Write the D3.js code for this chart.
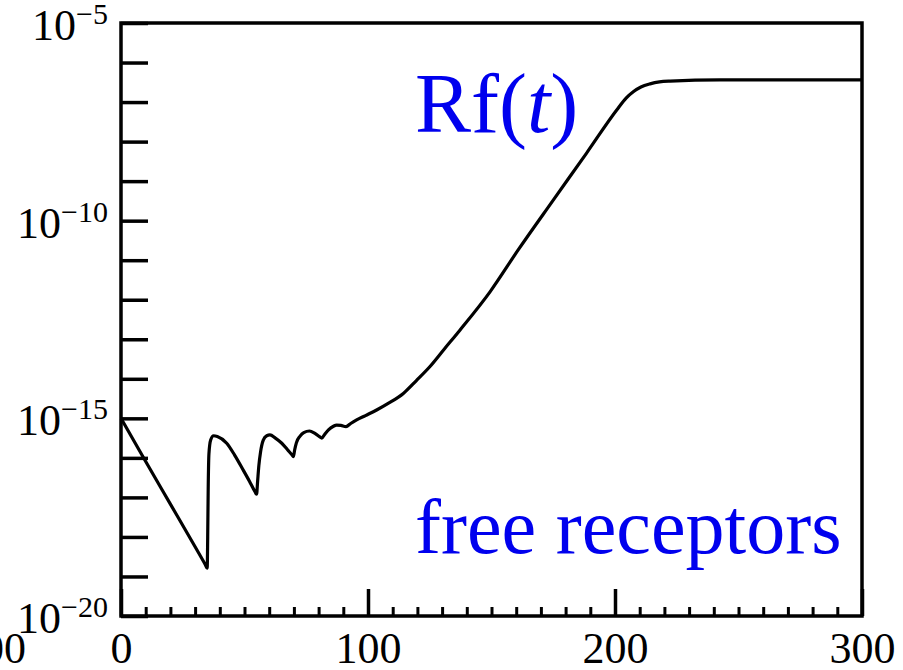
<!DOCTYPE html>
<html>
<head>
<meta charset="utf-8">
<script src="https://cdn.jsdelivr.net/npm/d3@7"></script>
<style>
  body { margin: 0; background: #fff; }
  svg { display: block; font-family: "Liberation Serif", "DejaVu Serif", serif; }
</style>
</head>
<body>
<svg width="903" height="670"></svg>
<script>
// time (x) and log10 of Rf(t)
const tValues = [0, 10, 20, 30, 34.2, 34.9, 35.1, 35.3, 35.6, 36.3, 37.5, 39, 42.8, 46, 49.5, 52, 54.2, 54.9,
  55.3, 55.8, 56.5, 57.6, 59, 60.3, 62.5, 65.1, 67.5, 69.3, 69.8, 70.3, 71, 72.5, 74, 76.3, 78.5, 80.5, 81.3,
  82.5, 84, 86, 87.3, 89, 91.1, 93, 95.4, 99, 103.5, 108, 114.3, 119.5, 125.1, 131, 137.2, 149.4, 160.8, 175, 188.5,
  200.7, 204.5, 207.4, 210.5, 214.2, 218, 222.3, 242.5, 270, 300];
const rfExponents = [-15.00, -16.09, -17.17, -18.25, -18.71, -18.79, -18.0, -16.8, -15.9, -15.55, -15.44, -15.46,
  -15.63, -15.93, -16.31, -16.59, -16.85, -16.92, -16.6, -16.2, -15.85, -15.55, -15.44, -15.42, -15.50, -15.63,
  -15.80, -15.93, -15.97, -15.80, -15.62, -15.45, -15.36, -15.32, -15.38, -15.47, -15.50, -15.40, -15.29, -15.20,
  -15.17, -15.18, -15.21, -15.13, -15.04, -14.93, -14.79, -14.63, -14.37, -14.05, -13.69, -13.24, -12.77, -11.80, -10.74,
  -9.48, -8.29, -7.20, -6.90, -6.74, -6.62, -6.54, -6.49, -6.47, -6.44, -6.44, -6.44];

const xTickLabels = [0, 100, 200, 300];
const yLabelExponents = [-5, -10, -15, -20];
const curveLabel = "Rf";
const noteLabel = "free receptors";

const data = tValues.map((t, i) => ({ t: t, rf: Math.pow(10, rfExponents[i]) }));

const svg = d3.select("svg");
const margin = { top: 23, right: 41, bottom: 54, left: 121 };
const width = +svg.attr("width");
const height = +svg.attr("height");
const innerWidth = width - margin.left - margin.right;
const innerHeight = height - margin.top - margin.bottom;

const xScale = d3.scaleLinear().domain([0, 300]).range([0, innerWidth]);
const yScale = d3.scaleLog().domain([1e-20, 1e-5]).range([innerHeight, 0]);

const g = svg.append("g").attr("transform", `translate(${margin.left},${margin.top})`);

// minor x ticks every 10
const xMinor = g.append("g")
  .attr("transform", `translate(0,${innerHeight})`)
  .call(d3.axisBottom(xScale).tickValues(d3.range(0, 301, 10)).tickSize(-9).tickFormat(""));
xMinor.select(".domain").remove();
xMinor.selectAll("line").attr("stroke", "#000").attr("stroke-width", 3);

// major x ticks
const xAxisG = g.append("g")
  .attr("transform", `translate(0,${innerHeight})`)
  .call(d3.axisBottom(xScale).tickValues(xTickLabels).tickSize(-27).tickPadding(0).tickFormat(d3.format("d")));
xAxisG.select(".domain").remove();
xAxisG.selectAll("line").attr("stroke", "#000").attr("stroke-width", 3.5);
xAxisG.selectAll("text")
  .attr("y", 47)
  .attr("dy", null)
  .attr("fill", "#000")
  .style("font-size", "44px")
  .style("font-family", "Liberation Serif, serif");

// y ticks every decade
const yAxisG = g.append("g")
  .call(d3.axisLeft(yScale).tickValues(d3.range(-20, -4).map((e) => Math.pow(10, e))).tickSize(-27).tickFormat(""));
yAxisG.select(".domain").remove();
yAxisG.selectAll("line").attr("stroke", "#000").attr("stroke-width", 3.5);

// y labels as 10^e
yLabelExponents.forEach((e) => {
  const y = yScale(Math.pow(10, e));
  const txt = g.append("text")
    .attr("x", -13)
    .attr("y", y + 17)
    .attr("text-anchor", "end")
    .attr("fill", "#000");
  txt.append("tspan").style("font-size", "44px").text("10");
  txt.append("tspan").attr("dy", -16).style("font-size", "30px").text("\u2212" + Math.abs(e));
});

// clipped label of the neighbouring panel
svg.append("text")
  .attr("x", 26)
  .attr("y", 663)
  .attr("text-anchor", "end")
  .attr("fill", "#000")
  .style("font-size", "44px")
  .text("300");

// frame
g.append("rect")
  .attr("width", innerWidth)
  .attr("height", innerHeight)
  .attr("fill", "none")
  .attr("stroke", "#000")
  .attr("stroke-width", 3.5);

const line = d3.line()
  .x((d) => xScale(d.t))
  .y((d) => yScale(d.rf))
  .curve(d3.curveMonotoneX);

g.append("path")
  .datum(data)
  .attr("fill", "none")
  .attr("stroke", "#000")
  .attr("stroke-width", 3.2)
  .attr("stroke-linejoin", "round")
  .attr("d", line);

// labels
const rfText = svg.append("text")
  .attr("x", 415)
  .attr("y", 132)
  .attr("fill", "#0000ee")
  .style("font-size", "84px");
rfText.append("tspan").text(curveLabel + "(");
rfText.append("tspan").style("font-style", "italic").text("t");
rfText.append("tspan").text(")");

svg.append("text")
  .attr("x", 415)
  .attr("y", 553)
  .attr("fill", "#0000ee")
  .style("font-size", "78px")
  .text(noteLabel);
</script>
</body>
</html>
